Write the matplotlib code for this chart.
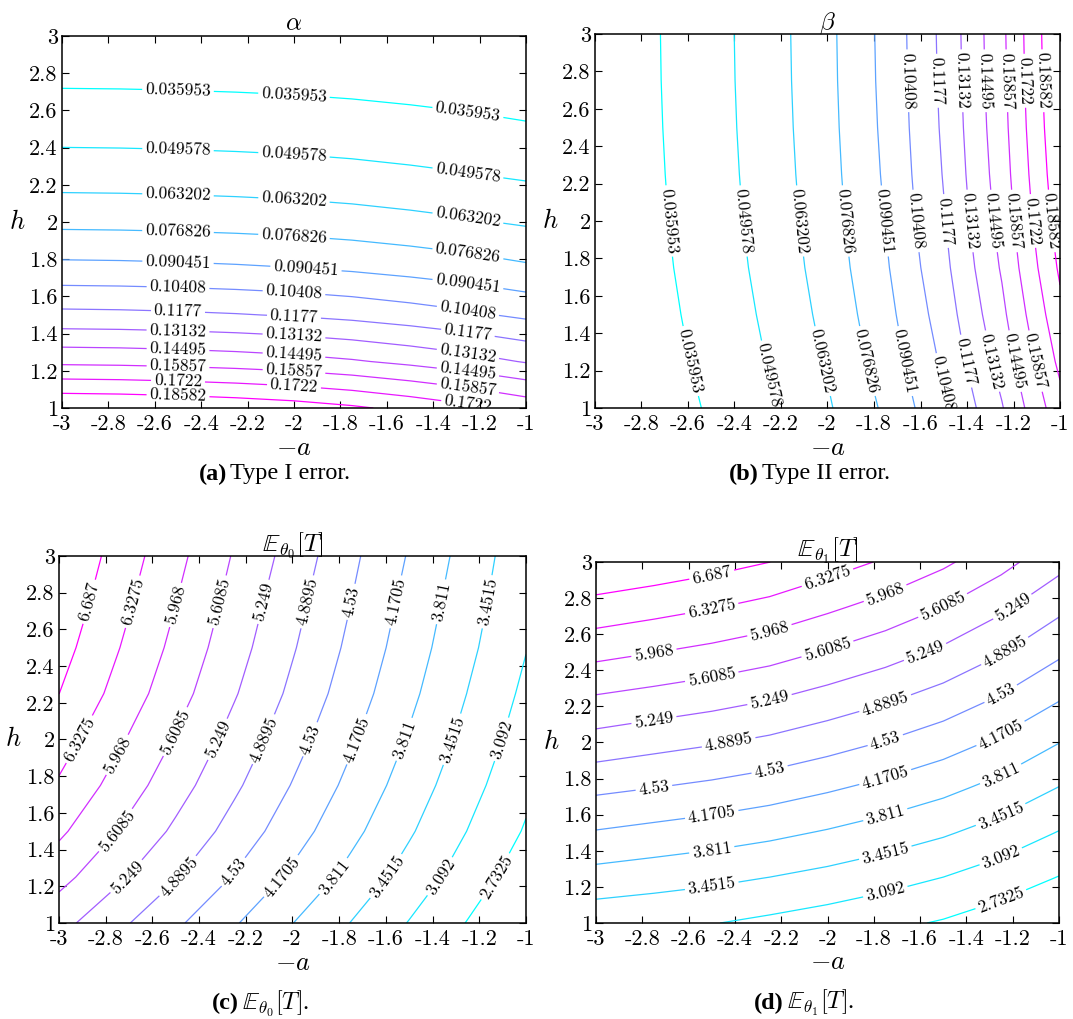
"""Four contour panels: Type I / Type II error and expected sample size vs (-a, h)."""
import numpy as np
import matplotlib
matplotlib.use("Agg")
import matplotlib.pyplot as plt
from matplotlib.ticker import FuncFormatter

plt.rcParams["font.family"] = ["cmr10", "DejaVu Serif"]
plt.rcParams["mathtext.fontset"] = "cm"
plt.rcParams["axes.unicode_minus"] = False

# grid the surfaces were read on
NEG_A = [-3.0, -2.75, -2.5, -2.25, -2.0, -1.75, -1.5, -1.25, -1.0]
H = [1.0, 1.25, 1.5, 1.75, 2.0, 2.25, 2.5, 2.75, 3.0]

ERR_LEVELS = [0.035953, 0.049578, 0.063202, 0.076826, 0.090451, 0.10408,
              0.1177, 0.13132, 0.14495, 0.15857, 0.1722, 0.18582]
ET_LEVELS = [2.7325, 3.092, 3.4515, 3.811, 4.1705, 4.53, 4.8895, 5.249,
             5.6085, 5.968, 6.3275, 6.687]

# rows = h (1 -> 3), cols = -a (-3 -> -1)
alpha = [
    [0.19976, 0.19902, 0.19755, 0.19534, 0.19240, 0.18799, 0.18210, 0.17548, 0.16739],
    [0.15557, 0.15500, 0.15385, 0.15213, 0.14984, 0.14640, 0.14182, 0.13666, 0.13036],
    [0.12116, 0.12071, 0.11982, 0.11848, 0.11670, 0.11402, 0.11045, 0.10643, 0.10152],
    [0.09436, 0.09401, 0.09331, 0.09227, 0.09088, 0.08880, 0.08602, 0.08289, 0.07907],
    [0.07349, 0.07322, 0.07268, 0.07187, 0.07078, 0.06916, 0.06699, 0.06456, 0.06158],
    [0.05723, 0.05702, 0.05660, 0.05597, 0.05512, 0.05386, 0.05217, 0.05028, 0.04796],
    [0.04457, 0.04441, 0.04408, 0.04358, 0.04293, 0.04194, 0.04063, 0.03915, 0.03735],
    [0.03471, 0.03459, 0.03433, 0.03395, 0.03344, 0.03267, 0.03165, 0.03049, 0.02909],
    [0.02704, 0.02694, 0.02674, 0.02644, 0.02604, 0.02544, 0.02465, 0.02375, 0.02265],
]
beta = [
    [0.02265, 0.02909, 0.03735, 0.04796, 0.06158, 0.07907, 0.10152, 0.13036, 0.16739],
    [0.02375, 0.03049, 0.03915, 0.05028, 0.06456, 0.08289, 0.10643, 0.13666, 0.17548],
    [0.02465, 0.03165, 0.04063, 0.05217, 0.06699, 0.08602, 0.11045, 0.14182, 0.18210],
    [0.02544, 0.03267, 0.04194, 0.05386, 0.06916, 0.08880, 0.11402, 0.14640, 0.18799],
    [0.02604, 0.03344, 0.04293, 0.05512, 0.07078, 0.09088, 0.11670, 0.14984, 0.19240],
    [0.02644, 0.03395, 0.04358, 0.05597, 0.07187, 0.09227, 0.11848, 0.15213, 0.19534],
    [0.02674, 0.03433, 0.04408, 0.05660, 0.07268, 0.09331, 0.11982, 0.15385, 0.19755],
    [0.02694, 0.03459, 0.04441, 0.05702, 0.07322, 0.09401, 0.12071, 0.15500, 0.19902],
    [0.02704, 0.03471, 0.04457, 0.05723, 0.07349, 0.09436, 0.12116, 0.15557, 0.19976],
]
et0 = [
    [5.365, 4.974, 4.591, 4.205, 3.817, 3.443, 3.075, 2.717, 2.370],
    [5.725, 5.317, 4.913, 4.505, 4.101, 3.699, 3.304, 2.916, 2.545],
    [6.034, 5.606, 5.181, 4.753, 4.329, 3.907, 3.493, 3.085, 2.700],
    [6.284, 5.839, 5.398, 4.954, 4.512, 4.075, 3.644, 3.220, 2.815],
    [6.490, 6.033, 5.580, 5.123, 4.669, 4.219, 3.777, 3.341, 2.920],
    [6.689, 6.218, 5.751, 5.280, 4.813, 4.349, 3.893, 3.444, 3.015],
    [6.826, 6.348, 5.873, 5.395, 4.921, 4.450, 3.987, 3.531, 3.105],
    [6.940, 6.456, 5.975, 5.490, 5.010, 4.533, 4.063, 3.602, 3.160],
    [7.042, 6.554, 6.073, 5.580, 5.106, 4.609, 4.142, 3.669, 3.209],
]
et1 = [
    [3.209, 3.160, 3.105, 3.015, 2.920, 2.815, 2.700, 2.545, 2.370],
    [3.669, 3.602, 3.531, 3.444, 3.341, 3.220, 3.085, 2.916, 2.717],
    [4.142, 4.063, 3.987, 3.893, 3.777, 3.644, 3.493, 3.304, 3.075],
    [4.609, 4.533, 4.450, 4.349, 4.219, 4.075, 3.907, 3.699, 3.443],
    [5.106, 5.010, 4.921, 4.813, 4.669, 4.512, 4.329, 4.101, 3.817],
    [5.580, 5.490, 5.395, 5.280, 5.123, 4.954, 4.753, 4.505, 4.205],
    [6.073, 5.975, 5.873, 5.751, 5.580, 5.398, 5.181, 4.913, 4.591],
    [6.554, 6.456, 6.348, 6.218, 6.033, 5.839, 5.606, 5.317, 4.974],
    [7.042, 6.940, 6.826, 6.689, 6.490, 6.284, 6.034, 5.725, 5.365],
]

# where the inline labels sit: (level index, coordinate along axis)
LAB_A = [(k, x) for k in range(10) for x in (-2.54, -1.89, -1.26)] + \
        [(10, -2.59), (10, -1.94), (10, -1.3), (11, -2.54)]
LAB_B = [(k, 2.0) for k in range(12)] + [(k, 2.8) for k in range(5, 12)] + \
        [(k, 1.2) for k in range(5)] + [(k, 1.17) for k in range(5, 10)]
LAB_C = [(11, 2.75), (10, 2.81), (10, 2.03), (9, 2.72), (9, 1.94),
         (8, 2.83), (8, 2.03), (8, 1.40), (7, 2.76), (7, 1.99), (7, 1.30),
         (6, 2.75), (6, 2.0), (6, 1.29), (5, 2.77), (5, 2.01), (5, 1.30),
         (4, 2.78), (4, 2.0), (4, 1.28), (3, 2.8), (3, 2.0), (3, 1.28),
         (2, 2.8), (2, 2.0), (2, 1.27), (1, 1.95), (1, 1.21), (0, 1.19)]
LAB_D = [(11, -2.48), (10, -2.59), (10, -1.97), (9, -2.78), (9, -2.15), (9, -1.64),
         (8, -2.56), (8, -1.95), (8, -1.40), (7, -2.85), (7, -2.27), (7, -1.65),
         (7, -1.13), (6, -2.44), (6, -1.81), (6, -1.23), (5, -2.86), (5, -2.27),
         (5, -1.65), (5, -1.13), (4, -2.45), (4, -1.83), (4, -1.23), (3, -2.46),
         (3, -1.83), (3, -1.22), (2, -2.47), (2, -1.83), (2, -1.23), (1, -1.70),
         (1, -1.14), (0, -1.36)]


def on_line(cs, k, val, axis):
    v = np.concatenate([s for s in cs.allsegs[k] if len(s)])
    i = np.argmin(np.abs(v[:, axis] - val))
    return tuple(v[i])


def panel(fig, rect, Z, levels, title, labs, axis):
    ax = fig.add_axes(rect)
    cs = ax.contour(NEG_A, H, np.array(Z), levels=levels, cmap="cool",
                    linewidths=0.9)
    pos = [on_line(cs, k, v, axis) for k, v in labs]
    cs.clabel(levels, manual=pos, inline=True, inline_spacing=3,
              fmt="%.5g", fontsize=12.5, colors="k")
    ax.set_xlim(-3, -1)
    ax.set_ylim(1, 3)
    ax.set_xticks(np.linspace(-3, -1, 11))
    ax.set_yticks(np.linspace(1, 3, 11))
    fmt = FuncFormatter(lambda v, _: f"{v:.1f}".rstrip("0").rstrip("."))
    ax.xaxis.set_major_formatter(fmt)
    ax.yaxis.set_major_formatter(fmt)
    ax.tick_params(direction="in", top=True, right=True, length=5,
                   width=0.8, labelsize=16, pad=3)
    ax.tick_params(axis="x", pad=5)
    for s in ax.spines.values():
        s.set_linewidth(1.1)
    ax.set_title(title, fontsize=18, pad=4)
    ax.set_xlabel("$-a$", fontsize=19, va="center")
    ax.xaxis.set_label_coords(0.5, -0.108)
    ax.set_ylabel("$h$", fontsize=19, rotation=0, ha="center", va="center")
    ax.yaxis.set_label_coords(-0.097, 0.5)
    return ax


def caption(fig, x, y, tag, rest):
    fig.text(x, y, tag, fontsize=17.5, fontweight="bold", ha="right", va="center",
             family="Liberation Serif")
    fig.text(x + 0.003, y, rest, fontsize=17.5, ha="left", va="center",
             family="Liberation Serif")


fig = plt.figure(figsize=(10.73, 10.19), dpi=100)
panel(fig, [0.0578, 0.5996, 0.4324, 0.3651], alpha, ERR_LEVELS,
      r"$\alpha$", LAB_A, 0)
panel(fig, [0.5545, 0.5996, 0.4334, 0.3670], beta, ERR_LEVELS,
      r"$\beta$", LAB_B, 1)
panel(fig, [0.0550, 0.0942, 0.4352, 0.3602], et0, ET_LEVELS,
      r"$\mathbb{E}_{\theta_0}[T]$", LAB_C, 1)
panel(fig, [0.5555, 0.0942, 0.4315, 0.3543], et1, ET_LEVELS,
      r"$\mathbb{E}_{\theta_1}[T]$", LAB_D, 0)

caption(fig, 0.2115, 1 - 474 / 1019, "(a)", "Type I error.")
caption(fig, 0.7075, 1 - 474 / 1019, "(b)", "Type II error.")
caption(fig, 0.2225, 1 - 1003 / 1019, "(c)", r"$\mathbb{E}_{\theta_0}[T]$.")
caption(fig, 0.7300, 1 - 1003 / 1019, "(d)", r"$\mathbb{E}_{\theta_1}[T]$.")

fig.savefig("out.png", dpi=100)
